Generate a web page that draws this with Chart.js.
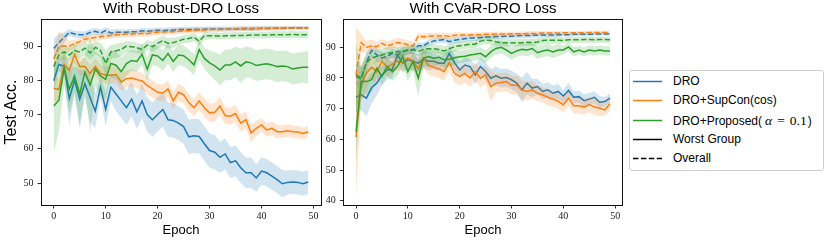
<!DOCTYPE html>
<html><head><meta charset="utf-8">
<script src="https://cdn.jsdelivr.net/npm/chart.js@4.4.0/dist/chart.umd.min.js"></script>
<style>
html,body{margin:0;padding:0;background:#fff;}
body{width:830px;height:242px;overflow:hidden;position:relative;font-family:"Liberation Sans",Arial,sans-serif;}
#c1{position:absolute;left:0;top:0;}
#c2{position:absolute;left:320px;top:0;}
#legend{position:absolute;left:629px;top:70px;width:195px;height:101px;border:1px solid #cfcfcf;border-radius:3px;box-sizing:border-box;background:#fff;}
.row{position:absolute;left:0;height:19px;width:190px;}
.row svg{position:absolute;left:3px;top:8px;}
.row span.t{position:absolute;left:43px;top:0;line-height:19px;font-size:12px;color:#000;white-space:nowrap;}
.m{font-family:"Liberation Serif",serif;font-size:13.5px;}
.mi{font-family:"Liberation Serif",serif;font-style:italic;font-size:13.5px;}
</style>
</head><body>
<canvas id="c1" width="325" height="242"></canvas>
<canvas id="c2" width="310" height="242"></canvas>
<div id="legend">
  <div class="row" style="top:0.5px"><svg width="30" height="3"><line x1="0" y1="1.5" x2="29" y2="1.5" stroke="#1f77b4" stroke-width="1.5"/></svg><span class="t">DRO</span></div>
  <div class="row" style="top:20px"><svg width="30" height="3"><line x1="0" y1="1.5" x2="29" y2="1.5" stroke="#ff7f0e" stroke-width="1.5"/></svg><span class="t">DRO+SupCon(cos)</span></div>
  <div class="row" style="top:39.5px"><svg width="30" height="3"><line x1="0" y1="1.5" x2="29" y2="1.5" stroke="#2ca02c" stroke-width="1.5"/></svg><span class="t">DRO+Proposed(<span class="mi" style="margin-left:3px">α</span><span class="m" style="margin:0 5px">=</span><span class="m">0.1</span><span style="margin-left:1px">)</span></span></div>
  <div class="row" style="top:59px"><svg width="30" height="3"><line x1="0" y1="1.5" x2="29" y2="1.5" stroke="#000" stroke-width="1.5"/></svg><span class="t">Worst Group</span></div>
  <div class="row" style="top:78px"><svg width="30" height="3"><line x1="0" y1="1.5" x2="29" y2="1.5" stroke="#000" stroke-width="1.5" stroke-dasharray="5.5,2.4"/></svg><span class="t">Overall</span></div>
</div>
<script>
// ---------- categories / ticks ----------
const epochs = [0,1,2,3,4,5,6,7,8,9,10,11,12,13,14,15,16,17,18,19,20,21,22,23,24,25,26,27,28,29,30,31,32,33,34,35,36,37,38,39,40,41,42,43,44,45,46,47,48,49];
const xTicks = [0,10,20,30,40,50];
const yTicksLeft = [50,60,70,80,90];
const yTicksRight = [40,50,60,70,80,90];
const titles = ["With Robust-DRO Loss", "With CVaR-DRO Loss"];

// ---------- Robust-DRO (left) ----------
const L_dro_worst = [79.9,84.7,84,74.7,80,74.5,79,75,71,78, 71.5,78,76,74,72,74.5,70.8,74,70,68.5, 70,71.5,68.5,68.3,67.5,66.5,63.5,63.8,63.6,61.5, 59.5,59,57.5,58.5,56,56.5,54.5,53,53,51.5, 53.5,53,52,51,49.8,50.2,50.3,50.2,49.8,50.3];
const L_dro_over  = [89.3,91,92.5,94,93.5,93.3,93.3,94,94.3,93.8, 94.5,93.8,94,94,94,94.2,94.2,94.5,94.3,94.5, 94.6,94.5,94.6,94.7,94.8,94.8,94.8,94.9,94.8,94.9, 95,95,95,95,95,95,95.1,95.1,95.1,95.1, 95.2,95.2,95.2,95.2,95.2,95.3,95.3,95.3,95.3,95.3];
const L_sup_worst = [77.7,77.3,84.5,83,87.5,84,84,82,84,82, 81.5,81.5,81.7,79.5,80.5,80.7,80.2,79.8,78.5,77.5, 76.5,76.3,77.5,74,76.5,75.8,73.5,72,74,72, 70.5,70.7,72.5,69.7,69.5,70.3,67.5,68.5,64.6,66, 67,65.5,66,65,65,65.3,65,64.9,64.5,65];
const L_sup_over  = [86.2,89.9,90,90,90.7,91.3,92,92.3,92.5,92.7, 92.9,93.1,93.3,93.3,93.5,93.5,93.6,93.7,93.6,93.9, 94,94.1,94.2,94.2,94.3,94.4,94.5,94.6,94.7,94.7, 94.8,94.8,94.8,94.9,94.9,95,95,95,95,95.1, 95.1,95.1,95.2,95.2,95.2,95.3,95.3,95.3,95.3,95.3];
const L_pro_worst = [72.5,74.2,83.5,77.4,81.3,76,82.3,78.6,83.3,81.3, 80.3,84.9,84.4,82.5,84.9,85.8,85.5,87.6,83.2,87.4, 87.1,85.8,87.8,85.5,87.4,87.2,86,84.5,89,86.4, 85.1,84.2,83,84.5,84.5,85.4,84.2,85.4,85.1,84.3, 84.6,84.8,84.5,84,84.2,84,83.3,83.6,83.8,83.8];
const L_pro_over  = [84,87.4,88.3,87.4,88.7,88.3,89.4,88,89.6,88.8, 84.9,88.3,88.6,89,90,89.8,89.5,89,90.3,89.8, 90.8,91.6,90.8,91,91.5,92,92.2,92.6,91.4,93, 93,93,92.9,93,93,93.1,93.1,93.1,93.2,93.2, 93.2,93.2,93.3,93.3,93.3,93.3,93.4,93.3,93.3,93.3];
// band half-widths (left)
const L_dro_worst_sd = [3,2,3,8,4,8.5,4,7,5,3, 5,4,5,5,5,5,5,5,5,5, 5,5,5,5,5,5,5,5,5,5, 5,5,4.5,4.5,4.5,4.5,4.5,4.5,4.5,4, 4,4,4,4,4,3.5,3.5,3.5,3.5,3.5];
const L_dro_over_sd  = [3,2.5,1.5,1,1,1,1,1,1,1, 1,1,1,0.8,0.8,0.8,0.8,0.8,0.8,0.8, 0.8,0.8,0.8,0.8,0.8,0.8,0.8,0.8,0.8,0.8, 0.7,0.7,0.7,0.7,0.7,0.7,0.7,0.7,0.7,0.7, 0.6,0.6,0.6,0.6,0.6,0.5,0.5,0.5,0.5,0.5];
const L_sup_worst_sd = [4,3,3,3,2.5,2.5,2.5,2.5,2.5,2.5, 2.5,2.5,2.5,2.5,2.5,2.5,2.5,2.5,2.5,2.5, 2.5,2.5,2.5,2.5,2.5,2.5,2.5,2.5,2.5,2.7, 2.7,2.7,2.7,2.5,2.5,2.5,2.5,2.5,2.5,2.2, 2,2,2,2,1.8,1.8,1.8,1.8,1.7,1.7];
const L_sup_over_sd  = [2.5,4.5,3,1.5,1.2,1,1,1,1,1, 1,0.9,0.9,0.9,0.9,0.9,0.9,0.9,0.9,0.9, 0.8,0.8,0.8,0.8,0.8,0.8,0.8,0.8,0.8,0.8, 0.7,0.7,0.7,0.7,0.7,0.7,0.7,0.7,0.7,0.7, 0.6,0.6,0.6,0.6,0.6,0.5,0.5,0.5,0.5,0.5];
const L_pro_worst_sd = [13.5,9,5,7,5,9,5,14,5,6, 6,4,4,4,3.5,3,3,3,3.5,3, 3,3,3,3,3,3,3,3,3,3, 3.5,4,4.5,4.5,4.5,4.5,5,4.5,4.5,4.5, 4.5,4.5,4.5,4.5,4.5,4.5,4.5,4.5,4.5,4.8];
const L_pro_over_sd  = [3,2.5,2,2,2,2,2,2,2,2, 4,2,2,2,1.5,1.5,1.5,1.5,1.5,1.5, 1.5,1.5,1.5,1.5,1.2,1.2,1.2,1.2,1.2,1.2, 1,1,1,1,1,1,1,1,1,1, 1,1,1,1,1,1,1,1,1,1];

// ---------- CVaR-DRO (right) ----------
const R_dro_worst = [73.7,74.5,73.4,76.7,78.3,81,82.6,82.8,87.5,84.8, 85.9,85.4,84.8,86.2,85.4,85.4,84.8,84.8,88,85, 82.6,84.2,83.7,81,83.7,82.1,79.9,80.7,79.9,80.1, 79.4,78.3,76.1,78.3,76.7,77.2,75.6,76.1,75,75.6, 74.1,75.9,73.7,73.9,72.6,73.1,73.7,72.1,72.3,73.4];
const R_dro_over  = [81,80,85,89,87.5,86.5,87,88,87.5,88.5, 89,89,90.5,90.5,91.5,92,92.3,92.5,91.8,92.3, 92.5,92.8,93,93,93.2,93.3,93.4,93.5,93.5,93.6, 93.6,93.7,93.8,93.8,93.9,93.9,94,94,94,94.1, 94.1,94.1,94.2,94.2,94.2,94.2,94.3,94.3,94.3,94.3];
const R_sup_worst = [60.7,78,81.5,83.5,82,85.5,83.5,84.5,85.5,85, 86.5,85.5,83,86.5,84,83.5,83,82,85,81.5, 80.5,81.5,80,82,79.9,81,77.2,78.3,78.5,78.8, 77.6,77.6,76.1,75.6,76.1,75,74.5,73.7,73.1,72.4, 71.3,73.4,70.9,70.9,70.5,71.3,70.5,70.1,69.6,71.6];
const R_sup_over  = [81,91.5,90,90.4,90.2,91.3,90.4,91,91.5,91.3, 90.8,90.4,93.6,93.4,93.6,93.7,93.7,93.8,93.5,93.9, 94,94,94,94.1,94.1,94.2,94.2,94.3,94.3,94.3, 94.4,94.4,94.4,94.5,94.5,94.5,94.6,94.6,94.6,94.6, 94.7,94.7,94.7,94.7,94.7,94.8,94.8,94.8,94.8,94.8];
const R_pro_worst = [62.5,78.8,78.8,79.4,83.2,80.5,83.7,82,83.7,87, 82,85.4,79.9,86.4,87,86.4,86.7,85.9,86.1,86.6, 86.9,87.1,87.5,87.7,88,86.9,88.5,89.6,90,89.1, 88,88.8,89.3,89.1,89.6,88.2,88.8,89.1,88.5,89.1, 89.1,90.1,88.5,89.1,88.5,89.1,88.8,89.1,88.8,88.8];
const R_pro_over  = [80.5,79.5,85,86.5,87,87.5,88,88.3,88.5,88.7, 89.2,89.3,88.6,89.3,89.5,89.5,89.3,88.8,89.5,90.2, 90.5,90.7,91,91,92,92.3,92.2,91.8,91.5,91.5, 91.4,91.5,91.5,91.6,91.5,91.7,92.2,92.3,92.3,92.3, 92.2,92.4,92.4,92.4,92.5,92.5,92.4,92.5,92.5,92.4];
// band half-widths (right)
const R_dro_worst_sd = [5,5,6,5,4,3.5,3,3,2.5,3, 3,3,3,3,3,2.5,2.5,2.5,2.5,2.5, 2.5,2.5,2.5,3,3,3,3,3,3,3, 3,3,4,3.7,3,2.5,2.5,2.5,2.5,2.5, 2,2.5,2,2,2,2,2,2,1.5,1.5];
const R_dro_over_sd  = [3,4,3,2,2,2,1.5,1.5,1.5,1.5, 1.2,1.2,1.2,1,1,1,1,1,1,1, 1,1,1,1,1,0.8,0.8,0.8,0.8,0.8, 0.8,0.8,0.8,0.8,0.8,0.7,0.7,0.7,0.7,0.7, 0.6,0.6,0.6,0.6,0.6,0.5,0.5,0.5,0.5,0.5];
const R_sup_worst_sd = [19.5,6,5,4,4,3,3,3,3,3, 3,3,3,3,3,3,3,3,3,3, 3,3,3,3,3,3,5,3,3,3, 3,3,3,3,3,2.5,2.5,2.5,2.5,2.5, 2.5,2.5,2.5,2.5,2.5,2.5,2.5,2.5,2,2.5];
const R_sup_over_sd  = [15.7,3,2,2,1.5,1.5,1.5,1.5,1.5,1.5, 1.5,1.5,1,1,1,1,1,1,1,1, 0.8,0.8,0.8,0.8,0.8,0.8,0.8,0.8,0.8,0.8, 0.7,0.7,0.7,0.7,0.7,0.7,0.7,0.7,0.7,0.7, 0.6,0.6,0.6,0.6,0.6,0.6,0.6,0.6,0.6,0.6];
const R_pro_worst_sd = [9.5,5,4,4,3,3,3,3,3,3, 3,3,6,3,3,2.5,2.5,2.5,2.5,2.5, 2,2,2,2,2,2,2,2,2,2, 2,2,2,2,2,2,2,2,2,2, 1.5,1.5,1.5,1.5,1.5,1.5,1.5,1.5,1.5,1.5];
const R_pro_over_sd  = [11,4,3,2.5,2,2,2,2,1.5,1.5, 1.5,1.5,1.5,1.5,1.5,1.5,1.5,1.5,1.5,1.5, 1.3,1.3,1.3,1.3,1.3,1.3,1.3,1.3,1.3,1.3, 1.2,1.2,1.2,1.2,1.2,1.2,1.2,1.2,1.2,1.2, 1,1,1,1,1,1,1,1,1,1];

// ---------- styling ----------
const BLUE = '31,119,180', ORANGE = '255,127,14', GREEN = '44,160,44';
const DASH = [5.5, 2.4];

Chart.defaults.font.family = '"Liberation Sans", Arial, sans-serif';
Chart.defaults.color = '#000';

function seriesSets(mean, sd, rgb, dash) {
  const lo = mean.map((v, i) => v - sd[i]);
  const hi = mean.map((v, i) => v + sd[i]);
  return [
    {data: lo, borderWidth: 0, borderColor: 'rgba(0,0,0,0)', pointRadius: 0, fill: false},
    {data: hi, borderWidth: 0, borderColor: 'rgba(0,0,0,0)', pointRadius: 0, fill: '-1', backgroundColor: `rgba(${rgb},0.2)`},
    {data: mean, borderColor: `rgb(${rgb})`, borderWidth: 1.5, borderDash: dash, pointRadius: 0, fill: false}
  ];
}

const boxPlugin = {
  id: 'box',
  afterDatasetsDraw(chart) {
    const {ctx, chartArea: a} = chart;
    ctx.save();
    ctx.strokeStyle = '#111';
    ctx.lineWidth = 1;
    ctx.strokeRect(Math.round(a.left) + 0.5, Math.round(a.top) + 0.5, Math.round(a.right - a.left), Math.round(a.bottom - a.top));
    ctx.restore();
  }
};

function build(id, title, groups, yMin, yMax, yTicks, yTitle, yWidth, padRight) {
  let datasets = [];
  groups.forEach(g => { datasets = datasets.concat(seriesSets(g[0], g[1], g[2], g[3])); });
  const n = datasets.length;
  datasets.forEach((d, i) => { d.order = n - i; d.tension = 0; });
  const tickFont = {family: '"Liberation Serif", serif', size: 10};
  return new Chart(document.getElementById(id), {
    type: 'line',
    data: {labels: epochs, datasets},
    plugins: [boxPlugin],
    options: {
      animation: false, responsive: false, devicePixelRatio: 1,
      layout: {padding: {left: 0, right: padRight, top: 0, bottom: 4}},
      plugins: {
        legend: {display: false}, tooltip: {enabled: false},
        title: {display: true, fullSize: false, text: title, color: '#000', font: {size: 15, weight: 'normal'}, padding: {top: 0, bottom: 1}}
      },
      scales: {
        x: {
          type: 'linear', min: -2.45, max: 51.45,
          afterBuildTicks(s) { s.ticks = xTicks.map(v => ({value: v})); },
          afterFit(s) { s.height = 33; },
          grid: {display: true, drawOnChartArea: false, drawTicks: true, tickLength: 3.5, color: '#000', lineWidth: 0.8},
          border: {display: false},
          ticks: {font: tickFont, color: '#222', padding: 2, maxRotation: 0, autoSkip: false},
          title: {display: true, text: 'Epoch', font: {size: 13}, color: '#000', padding: {top: 0, bottom: 0}}
        },
        y: {
          type: 'linear', min: yMin, max: yMax,
          afterBuildTicks(s) { s.ticks = yTicks.map(v => ({value: v})); },
          afterFit(s) { s.width = yWidth; },
          grid: {display: true, drawOnChartArea: false, drawTicks: true, tickLength: 3.5, color: '#000', lineWidth: 0.8},
          border: {display: false},
          ticks: {font: tickFont, color: '#222', padding: 4, autoSkip: false},
          title: {display: !!yTitle, text: yTitle || '', font: {size: 16}, color: '#000', padding: {top: 2, bottom: 0}}
        }
      }
    }
  });
}

build('c1', titles[0], [
  [L_dro_worst, L_dro_worst_sd, BLUE, []],
  [L_dro_over, L_dro_over_sd, BLUE, DASH],
  [L_sup_worst, L_sup_worst_sd, ORANGE, []],
  [L_sup_over, L_sup_over_sd, ORANGE, DASH],
  [L_pro_worst, L_pro_worst_sd, GREEN, []],
  [L_pro_over, L_pro_over_sd, GREEN, DASH]
], 43.6, 97.9, yTicksLeft, 'Test Acc.', 41, 4);

build('c2', titles[1], [
  [R_dro_worst, R_dro_worst_sd, BLUE, []],
  [R_dro_over, R_dro_over_sd, BLUE, DASH],
  [R_sup_worst, R_sup_worst_sd, ORANGE, []],
  [R_sup_over, R_sup_over_sd, ORANGE, DASH],
  [R_pro_worst, R_pro_worst_sd, GREEN, []],
  [R_pro_over, R_pro_over_sd, GREEN, DASH]
], 38.6, 99.2, yTicksRight, '', 23.3, 7.3);
</script>
</body></html>
